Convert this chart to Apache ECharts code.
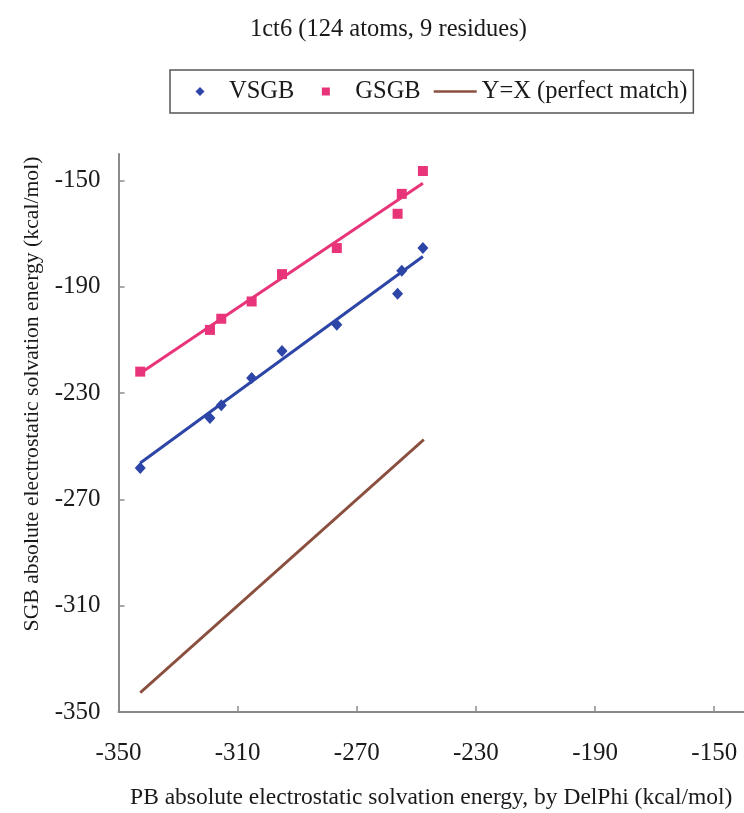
<!DOCTYPE html>
<html>
<head>
<meta charset="utf-8">
<script src="https://cdn.jsdelivr.net/npm/echarts@6/dist/echarts.min.js"></script>
<style>
  html, body { margin: 0; padding: 0; background: #ffffff; }
  #chart { width: 744px; height: 813px; }
</style>
</head>
<body>
<div id="chart"></div>
<script>
// PB energies (x), shared by both SGB flavours
var pbEnergy = [-342.7, -319.3, -315.5, -305.3, -295.1, -276.7, -256.3, -254.9, -247.8];
var vsgbEnergy = [-258.2, -239.4, -234.6, -224.3, -214.1, -204.3, -192.6, -183.9, -175.4];
var gsgbEnergy = [-221.9, -206.2, -202.0, -195.5, -185.2, -175.4, -162.5, -155.0, -146.4];

// trend line end points as drawn in the figure
var fitX = [-342.7, -247.8];
var vsgbFitY = [-256.3, -178.6];
var gsgbFitY = [-222.5, -151.0];
var perfectX = [-342.7, -247.5];

var tickValues = [-350, -310, -270, -230, -190, -150];

var serif = '"Liberation Serif", "Times New Roman", serif';
var blue = '#2c45a6', pink = '#e8357a', brown = '#8a4f3e';

// legend icons span the whole 43x9 item box (the leading moves fix the box),
// so the visible mark sits where it does in the figure
var iconDiamond = 'path://M0,0M43,9M19,0L23.5,4.5L19,9L14.5,4.5Z';
var iconSquare = 'path://M0,0M43,9M14.5,0.5H22.5V8.5H14.5Z';
var iconLine = 'path://M0,0M43,9M0,3.2H43V5.8H0Z';

function pairs(xs, ys) {
  return xs.map(function (x, i) { return [x, ys[i]]; });
}

var chart = echarts.init(document.getElementById('chart'));

var axisCommon = {
  type: 'value',
  min: -350,
  max: -140,
  interval: 40,
  nameLocation: 'middle',
  splitLine: { show: false },
  axisLine: { lineStyle: { color: '#8a8a8a', width: 2 } },
  axisTick: { inside: true, length: 6, customValues: tickValues, lineStyle: { color: '#8a8a8a', width: 1.5 } },
  axisLabel: { customValues: tickValues, color: '#1a1a1a', fontFamily: serif, fontSize: 25 }
};

chart.setOption({
  backgroundColor: '#ffffff',
  animation: false,
  title: {
    text: '1ct6 (124 atoms, 9 residues)',
    left: 250,
    top: 17,
    padding: 0,
    textStyle: { color: '#1a1a1a', fontFamily: serif, fontSize: 24.5, fontWeight: 'normal' }
  },
  legend: {
    left: 170,
    top: 70,
    padding: [9, 6, 9, 11],
    itemGap: 13,
    itemWidth: 43,
    itemHeight: 9,
    symbolKeepAspect: true,
    borderColor: '#555555',
    borderWidth: 1.5,
    selectedMode: false,
    textStyle: { color: '#1a1a1a', fontFamily: serif, fontSize: 24.5 },
    data: [
      { name: 'VSGB', icon: iconDiamond, itemStyle: { color: blue } },
      { name: 'GSGB', icon: iconSquare, itemStyle: { color: pink } },
      { name: 'Y=X (perfect match)', icon: iconLine, itemStyle: { color: brown } }
    ]
  },
  grid: { left: 118.5, right: 0, top: 154, bottom: 101, outerBoundsMode: 'none' },
  xAxis: Object.assign({}, axisCommon, {
    name: 'PB absolute electrostatic solvation energy, by DelPhi (kcal/mol)',
    nameGap: 74,
    nameTextStyle: { color: '#1a1a1a', fontFamily: serif, fontSize: 23.5 },
    axisLabel: Object.assign({}, axisCommon.axisLabel, { margin: 29 })
  }),
  yAxis: Object.assign({}, axisCommon, {
    name: 'SGB absolute electrostatic solvation energy (kcal/mol)',
    nameGap: 74,
    nameTextStyle: { color: '#1a1a1a', fontFamily: serif, fontSize: 21.7, padding: [0, 0, 0, 78] },
    axisLabel: Object.assign({}, axisCommon.axisLabel, { margin: 18 })
  }),
  series: [
    {
      name: 'VSGB trend',
      type: 'line',
      data: pairs(fitX, vsgbFitY),
      symbol: 'none',
      lineStyle: { color: blue, width: 3 },
      z: 2
    },
    {
      name: 'GSGB trend',
      type: 'line',
      data: pairs(fitX, gsgbFitY),
      symbol: 'none',
      lineStyle: { color: pink, width: 3 },
      z: 2
    },
    {
      name: 'Y=X (perfect match)',
      type: 'line',
      data: pairs(perfectX, perfectX),
      symbol: 'none',
      itemStyle: { color: brown },
      lineStyle: { color: brown, width: 2.8 },
      z: 2
    },
    {
      name: 'VSGB',
      type: 'scatter',
      data: pairs(pbEnergy, vsgbEnergy),
      symbol: 'diamond',
      symbolSize: [11, 12],
      itemStyle: { color: blue, opacity: 1 },
      z: 3
    },
    {
      name: 'GSGB',
      type: 'scatter',
      data: pairs(pbEnergy, gsgbEnergy),
      symbol: 'rect',
      symbolSize: 10,
      itemStyle: { color: pink, opacity: 1 },
      z: 3
    }
  ]
});

window.addEventListener('resize', function () {
  chart.resize();
});
</script>
</body>
</html>
